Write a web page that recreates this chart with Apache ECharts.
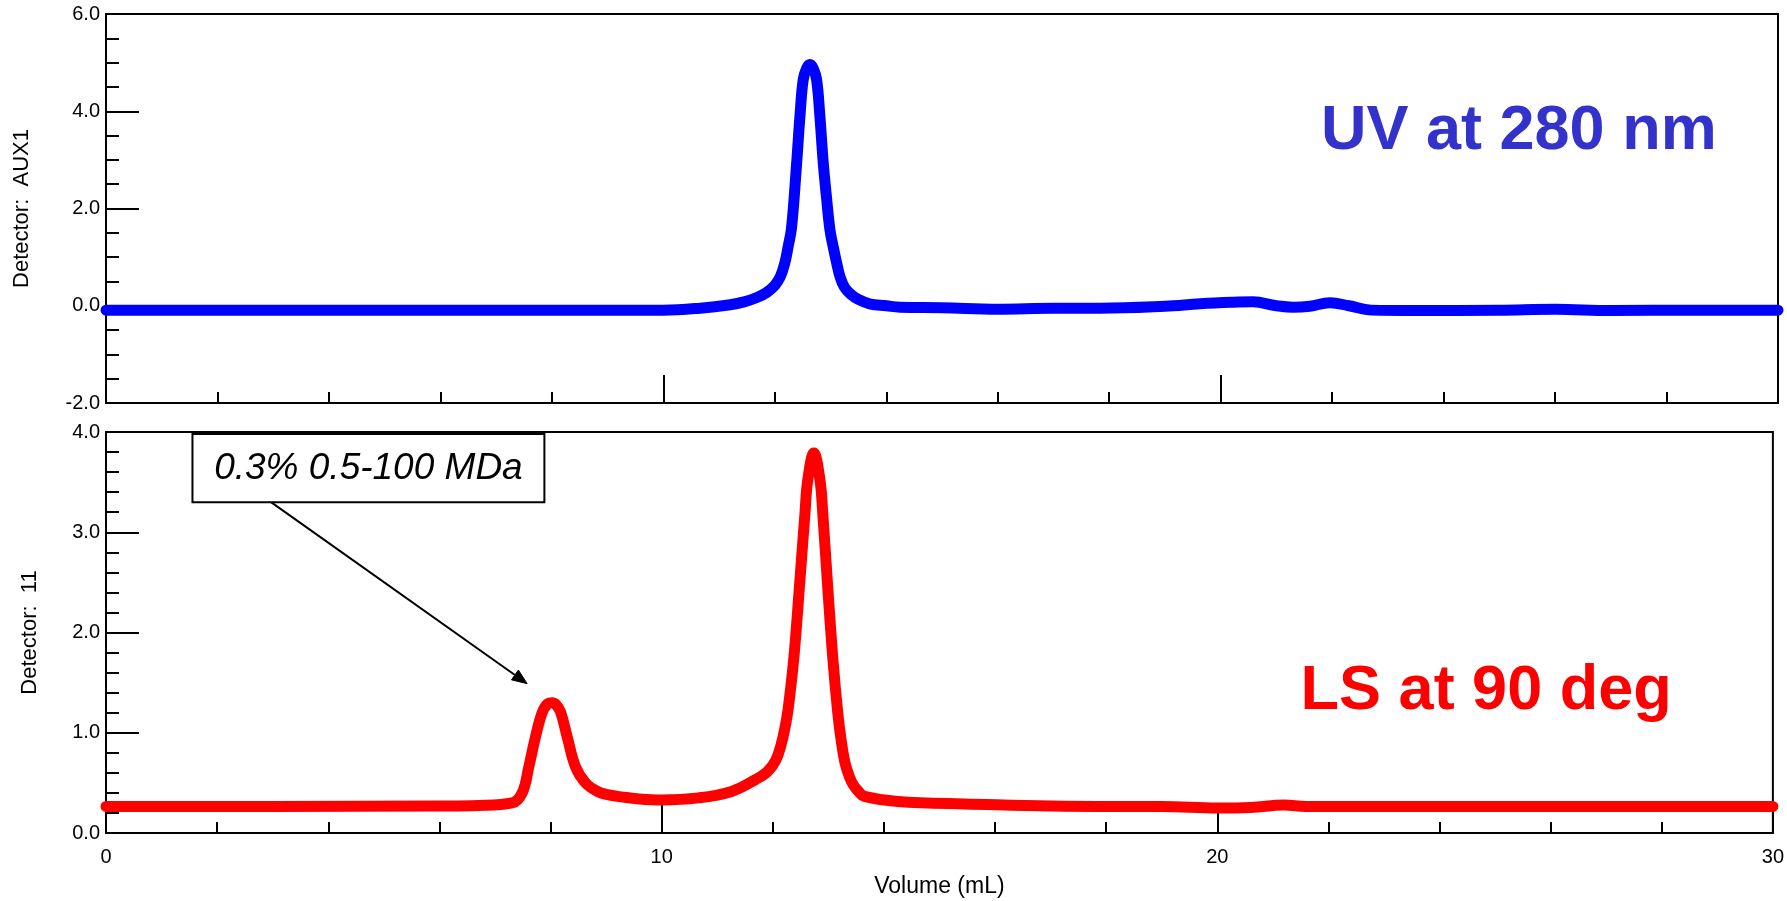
<!DOCTYPE html>
<html>
<head>
<meta charset="utf-8">
<script src="https://cdn.jsdelivr.net/npm/echarts@6/dist/echarts.min.js"></script>
<style>
  html, body { margin: 0; padding: 0; background: #fff; }
  #chart { width: 1787px; height: 901px; }
</style>
</head>
<body>
<div id="chart"></div>
<script>
// UV absorbance trace (elution volume in mL, detector AUX1 signal)
const uvVolume = [0, 3, 6, 9, 10.0, 10.66, 11.2, 11.45, 11.68, 11.85, 12.0, 12.1, 12.18, 12.24, 12.3, 12.39, 12.455, 12.51, 12.57, 12.63,
  12.69, 12.75, 12.805, 12.87, 12.93, 12.99, 13.05, 13.11, 13.17, 13.25, 13.36, 13.5, 13.7, 14.0, 14.25, 15.0, 16.0, 17.0, 17.84,
  19.0, 19.63, 20.2, 20.58, 21.0, 21.3, 21.6, 21.96, 22.3, 22.7, 23.5, 25.0, 26.0, 27.0, 28.5, 30];
const uvSignal = [-0.09, -0.09, -0.09, -0.09, -0.09, -0.05, 0.02, 0.08, 0.17, 0.27, 0.42, 0.6, 0.88, 1.22, 1.6, 2.9, 3.96, 4.65, 4.88, 4.96,
  4.88, 4.65, 3.96, 2.93, 2.2, 1.56, 1.2, 0.88, 0.6, 0.38, 0.24, 0.13, 0.04, 0.0, -0.03, -0.04, -0.07, -0.05, -0.05,
  -0.01, 0.04, 0.07, 0.08, 0.0, -0.03, -0.01, 0.06, 0.0, -0.09, -0.1, -0.09, -0.07, -0.1, -0.09, -0.09];

// Light scattering trace at 90 degrees (detector 11)
const lsVolume = [0, 3, 6, 6.7, 7.31, 7.49, 7.61, 7.73, 7.85, 7.95, 8.03, 8.1, 8.18, 8.3, 8.45, 8.63, 8.86, 9.05, 9.28, 9.6,
  10.0, 10.66, 11.26, 11.68, 11.9, 12.05, 12.15, 12.22, 12.28, 12.38, 12.49, 12.58, 12.63, 12.74, 12.85, 12.9, 12.98,
  13.08, 13.17, 13.23, 13.3, 13.38, 13.45, 13.55, 13.65, 14.25, 15.44, 17.84, 19.0, 20.0, 20.6, 21.2, 21.6, 25.0, 30];
const lsSignal = [0.265, 0.265, 0.27, 0.275, 0.3, 0.4, 0.66, 0.96, 1.2, 1.29, 1.3, 1.28, 1.21, 0.96, 0.66, 0.5, 0.41, 0.38, 0.36, 0.34,
  0.33, 0.35, 0.415, 0.53, 0.61, 0.72, 0.88, 1.05, 1.25, 1.75, 2.53, 3.19, 3.52, 3.79, 3.52, 3.19, 2.53,
  1.75, 1.2, 0.93, 0.7, 0.56, 0.48, 0.41, 0.365, 0.315, 0.29, 0.265, 0.265, 0.25, 0.255, 0.28, 0.265, 0.265, 0.265];

// Annotation: box corners and arrow ends in data units of the lower panel
const noteText = '0.3% 0.5-100 MDa';
const noteBox = [[1.556, 3.98], [7.89, 3.30]];
const noteArrow = [[2.97, 3.30], [7.58, 1.49]];

const FONT = '"Liberation Sans", Arial, sans-serif';
const BLACK = '#000';

const pairs = (xs, ys) => xs.map((x, i) => [x, ys[i]]);

function xAxisCfg(gridIndex, showLabels) {
  return {
    type: 'value', gridIndex, min: 0, max: 30, interval: 10,
    axisLine: { show: true, onZero: false, lineStyle: { color: BLACK, width: 2 } },
    axisTick: { show: true, inside: true, length: 28, lineStyle: { color: BLACK, width: 2 } },
    minorTick: { show: true, splitNumber: 5, length: 11, lineStyle: { color: BLACK, width: 2 } },
    splitLine: { show: false },
    axisLabel: { show: showLabels, margin: 14, color: BLACK, fontFamily: FONT, fontSize: 20 },
    name: showLabels ? 'Volume (mL)' : '',
    nameLocation: 'middle', nameGap: 42,
    nameTextStyle: { color: BLACK, fontFamily: FONT, fontSize: 23 }
  };
}

function yAxisCfg(gridIndex, min, max, interval, minorSplit, name, nameGap) {
  return {
    type: 'value', gridIndex, min, max, interval,
    axisLine: { show: true, onZero: false, lineStyle: { color: BLACK, width: 2 } },
    axisTick: { show: true, inside: true, length: 33, lineStyle: { color: BLACK, width: 2 } },
    minorTick: { show: true, splitNumber: minorSplit, length: 13, lineStyle: { color: BLACK, width: 2 } },
    splitLine: { show: false },
    axisLabel: { margin: 6, color: BLACK, fontFamily: FONT, fontSize: 20, formatter: v => v.toFixed(1) },
    name, nameLocation: 'middle', nameGap,
    nameTextStyle: { color: BLACK, fontFamily: FONT, fontSize: 22 }
  };
}

const chart = echarts.init(document.getElementById('chart'), null, { renderer: 'canvas' });

chart.setOption({
  backgroundColor: '#fff',
  animation: false,
  grid: [
    { left: 106, top: 14, right: 9, height: 389, show: true, borderColor: BLACK, borderWidth: 2, containLabel: false },
    { left: 106, top: 432, right: 9, height: 401, show: true, borderColor: BLACK, borderWidth: 2, containLabel: false }
  ],
  xAxis: [xAxisCfg(0, false), xAxisCfg(1, true)],
  yAxis: [
    yAxisCfg(0, -2, 6, 2, 4, 'Detector:  AUX1', 73),
    yAxisCfg(1, 0, 4, 1, 5, 'Detector:  11', 65)
  ],
  series: [
    {
      name: 'UV at 280 nm', type: 'line', xAxisIndex: 0, yAxisIndex: 0,
      data: pairs(uvVolume, uvSignal), showSymbol: false, symbol: 'none', smooth: 0.4,
      lineStyle: { color: '#0000FF', width: 11, cap: 'round', join: 'round' }, z: 3
    },
    {
      name: 'LS at 90 deg', type: 'line', xAxisIndex: 1, yAxisIndex: 1,
      data: pairs(lsVolume, lsSignal), showSymbol: false, symbol: 'none', smooth: 0.4,
      lineStyle: { color: '#FF0000', width: 11, cap: 'round', join: 'round' }, z: 3
    }
  ]
});

// Text labels, the annotation box and its arrow, placed in the panels' data units
const toLower = v => chart.convertToPixel({ xAxisIndex: 1, yAxisIndex: 1 }, v);
const p0 = toLower(noteBox[0]);
const p1 = toLower(noteBox[1]);
const a0 = toLower(noteArrow[0]);
const a1 = toLower(noteArrow[1]);
const uvPos = chart.convertToPixel({ xAxisIndex: 0, yAxisIndex: 0 }, [21.8, 3.59]);
const lsPos = toLower([21.5, 1.41]);

// arrowhead triangle at the arrow's end
const ang = Math.atan2(a1[1] - a0[1], a1[0] - a0[0]);
const headLen = 15, headHalf = 6;
const bx = a1[0] - headLen * Math.cos(ang), by = a1[1] - headLen * Math.sin(ang);
const head = [
  [a1[0], a1[1]],
  [bx + headHalf * Math.sin(ang), by - headHalf * Math.cos(ang)],
  [bx - headHalf * Math.sin(ang), by + headHalf * Math.cos(ang)]
];

chart.setOption({
  graphic: [
    {
      type: 'line', z: 20,
      shape: { x1: a0[0], y1: a0[1], x2: bx, y2: by },
      style: { stroke: BLACK, lineWidth: 2 }
    },
    {
      type: 'polygon', z: 20,
      shape: { points: head },
      style: { fill: BLACK, stroke: BLACK, lineWidth: 1 }
    },
    {
      type: 'rect', z: 20,
      shape: { x: p0[0], y: p0[1], width: p1[0] - p0[0], height: p1[1] - p0[1] },
      style: { fill: '#fff', stroke: BLACK, lineWidth: 2 }
    },
    {
      type: 'text', z: 21, x: (p0[0] + p1[0]) / 2, y: (p0[1] + p1[1]) / 2 + 1,
      style: { text: noteText, font: 'italic 37px ' + FONT, fill: BLACK, align: 'center', verticalAlign: 'middle' }
    },
    {
      type: 'text', z: 21, x: uvPos[0], y: uvPos[1],
      style: { text: 'UV at 280 nm', font: 'bold 63px ' + FONT, fill: '#3333CC', align: 'left', verticalAlign: 'middle' }
    },
    {
      type: 'text', z: 21, x: lsPos[0], y: lsPos[1],
      style: { text: 'LS at 90 deg', font: 'bold 63px ' + FONT, fill: '#FF0000', align: 'left', verticalAlign: 'middle' }
    }
  ]
});
</script>
</body>
</html>
